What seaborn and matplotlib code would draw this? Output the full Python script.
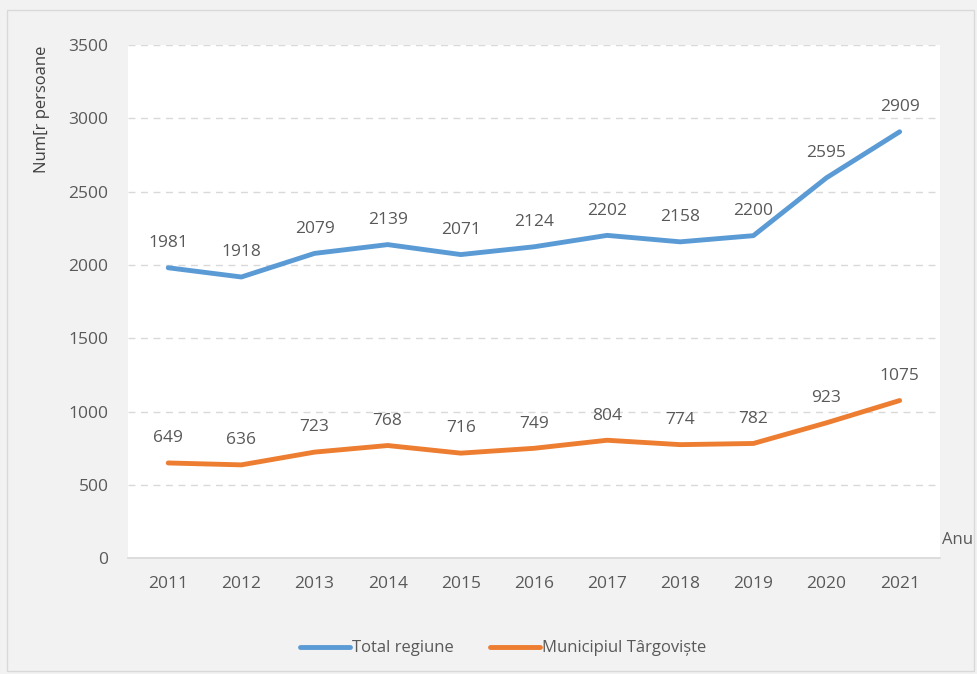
import pandas as pd
import seaborn as sns
from matplotlib import pyplot as plt
from matplotlib.patches import Rectangle

years = [2011, 2012, 2013, 2014, 2015, 2016, 2017, 2018, 2019, 2020, 2021]
total_regiune = [1981, 1918, 2079, 2139, 2071, 2124, 2202, 2158, 2200, 2595, 2909]
municipiu = [649, 636, 723, 768, 716, 749, 804, 774, 782, 923, 1075]
series_names = ["Total regiune", "Municipiul Târgoviște"]

data = pd.DataFrame({
    "an": years * 2,
    "valoare": total_regiune + municipiu,
    "serie": [series_names[0]] * len(years) + [series_names[1]] * len(years),
})
data["pos"] = data["an"] - years[0]

palette = ["#5b9bd5", "#ed7d31"]
text_col = "#595959"
sns.set_theme(style="white")
plt.rcParams["font.family"] = ["Open Sans", "DejaVu Sans"]

fig = plt.figure(figsize=(9.77, 6.74), dpi=100, facecolor="#f2f2f2")
fig.patches.append(Rectangle((0.007, 0.005), 0.99, 0.98, transform=fig.transFigure,
                             fill=False, edgecolor="#d9d9d9", lw=1))
ax = fig.add_axes([0.131, 0.172, 0.831, 0.761])
ax.set_facecolor("white")

sns.lineplot(data=data, x="pos", y="valoare", hue="serie", palette=palette,
             linewidth=3.5, ax=ax, legend=False)

for vals in (total_regiune, municipiu):
    for i, v in enumerate(vals):
        ax.annotate(str(v), (i, v), xytext=(0, 12), textcoords="offset points",
                    ha="center", va="bottom", fontsize=12.5, color=text_col)

ax.set_xlim(-0.55, len(years) - 0.45)
ax.set_ylim(0, 3500)
ax.set_yticks(range(0, 3501, 500))
ax.set_xticks(range(len(years)))
ax.set_xticklabels([str(y) for y in years])
ax.tick_params(axis="both", length=0, labelsize=12.5, labelcolor=text_col)
ax.tick_params(axis="x", pad=13)
ax.tick_params(axis="y", pad=14)
ax.yaxis.grid(True, color="#d9d9d9", linestyle=(0, (5, 4)), linewidth=1)
ax.set_axisbelow(True)
for s in ["top", "right", "left"]:
    ax.spines[s].set_visible(False)
ax.spines["bottom"].set_color("#d9d9d9")
ax.set_xlabel("")
ax.set_ylabel("Num[r persoane", fontsize=12, color="#404040")
ax.yaxis.set_label_coords(-0.096, 1.0)
ax.yaxis.label.set_va("bottom")
ax.yaxis.label.set_ha("right")
fig.text(0.964, 0.199, "Anu", fontsize=12, color=text_col, ha="left", va="center")

handles = [plt.Line2D([], [], color=c, lw=3.5) for c in palette]
fig.legend(handles, series_names, loc="center", bbox_to_anchor=(0.515, 0.038), ncol=2,
           frameon=False, fontsize=12, labelcolor=text_col, handlelength=3.0,
           handletextpad=0.1, columnspacing=2.2)

plt.savefig("out.png", dpi=100, facecolor=fig.get_facecolor())
